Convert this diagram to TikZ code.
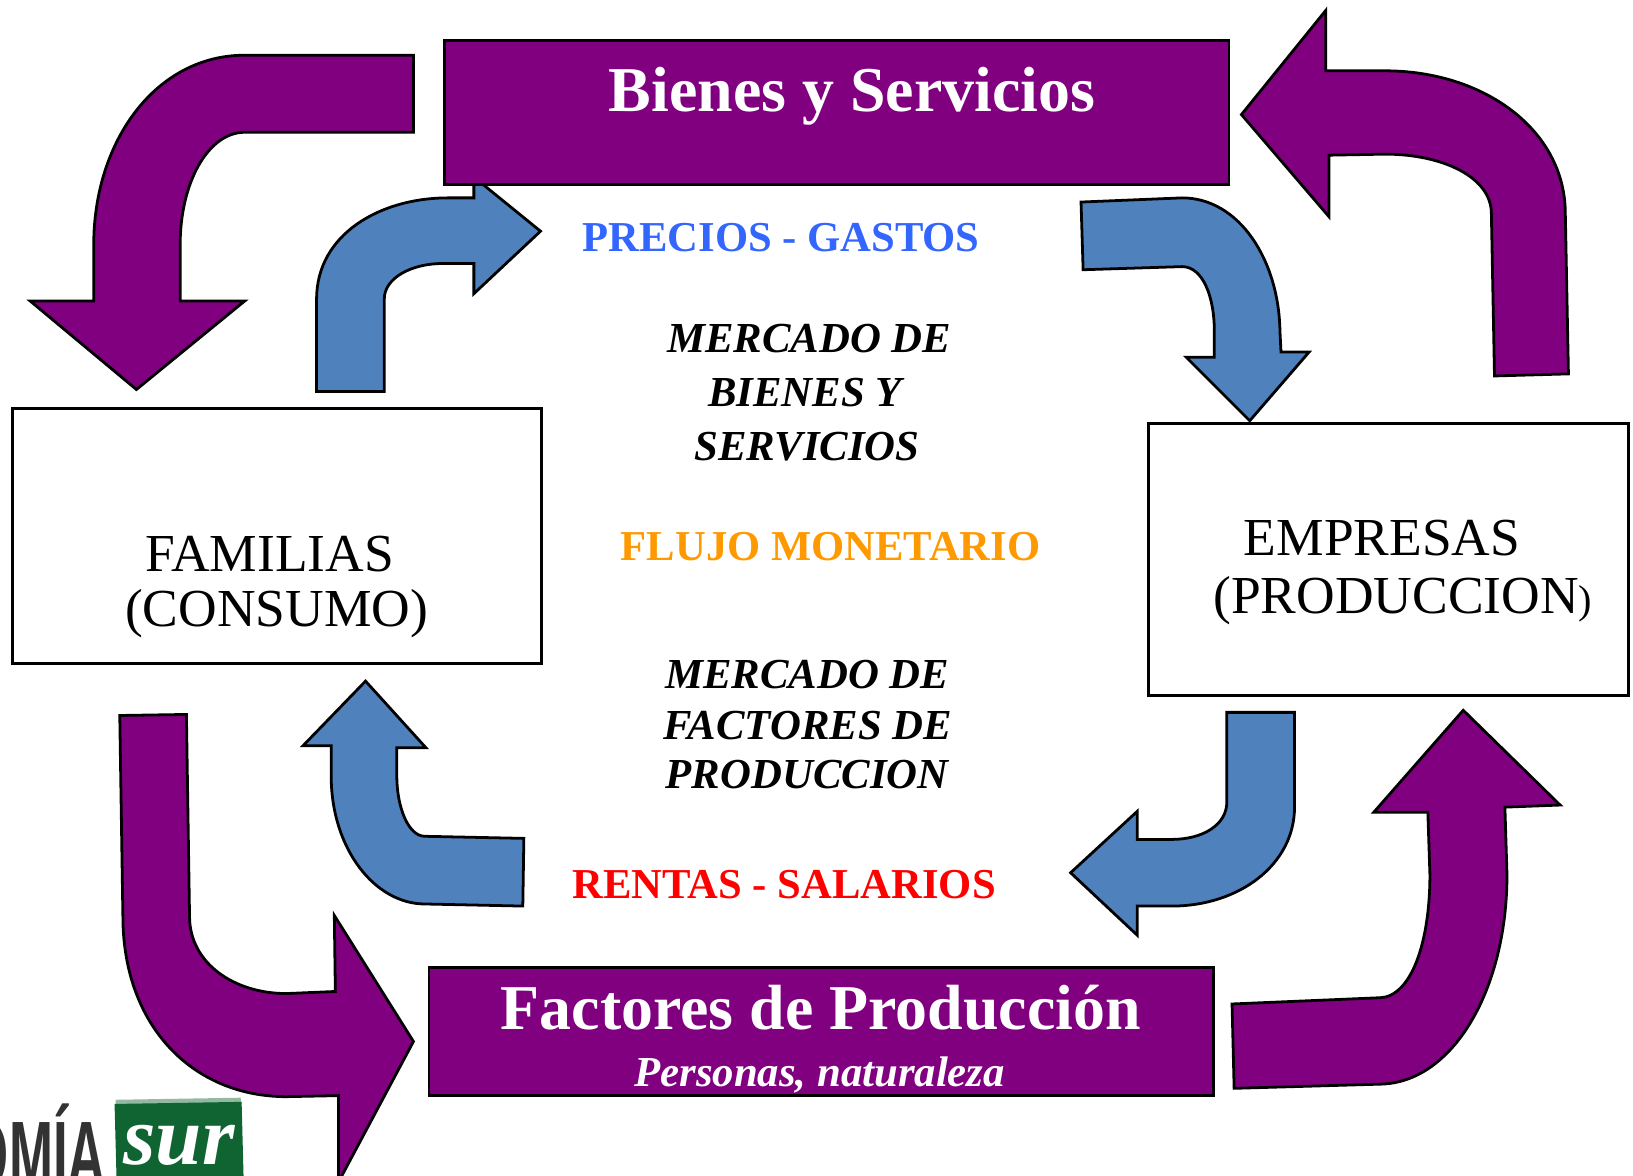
\documentclass[tikz,border=0pt]{standalone}
\usepackage{fontspec}
\setmainfont{Liberation Serif}
\newfontfamily\logofont[BoldFeatures={FakeStretch=0.56},FakeStretch=0.56]{Liberation Sans}
\definecolor{purp}{HTML}{800080}
\definecolor{steel}{HTML}{4F81BD}
\definecolor{precio}{HTML}{3366FF}
\definecolor{flujo}{HTML}{FF9900}
\definecolor{logogreen}{HTML}{0F6432}
\definecolor{logogrey}{HTML}{333333}
\newcommand{\fs}[1]{\fontsize{#1}{#1}\selectfont}
\tikzset{
  x=0.75pt,y=-0.75pt,
  purplearrow/.style={draw=black,line width=2pt,fill=purp,line join=miter},
  bluearrow/.style={draw=black,line width=2pt,fill=steel,line join=miter},
  purplebox/.style={draw=black,line width=2pt,fill=purp},
  whitebox/.style={draw=black,line width=2.2pt,fill=white},
  lbl/.style={inner sep=0pt,align=center},
}
\begin{document}
\begin{tikzpicture}
\useasboundingbox (0,0) rectangle (1568,1129);
\clip (0,0) rectangle (1568,1129);
% blue arrow top-left (behind box)
\draw[bluearrow] (304,376) -- (304,287) .. controls (304,225) and (365,190) .. (430,190) -- (455,190) -- (455,170) -- (519,222) -- (455,282) -- (455,253) -- (425,253) .. controls (395,253) and (369,267) .. (369,287) -- (369,376) -- cycle;
% boxes
\path[purplebox] (427,39) rectangle (1180,177);
\path[purplebox] (412,929) rectangle (1165,1052);
\path[whitebox] (12,392) rectangle (520,637);
\path[whitebox] (1103,407) rectangle (1564,668);
% purple arrows
\draw[purplearrow] (397,53) -- (235,53) .. controls (150,53) and (90,135) .. (90,235) -- (90,289) -- (29,289) -- (131,374) -- (235,289) -- (173,289) -- (173,235) .. controls (173,175) and (200,127) .. (235,127) -- (397,127) -- cycle;
\draw[purplearrow] (1435,361) -- (1432,205) .. controls (1432,170) and (1385,148) .. (1330,148) -- (1276,149) -- (1276,208) -- (1192,110) -- (1273,10) -- (1273,68) -- (1330,68) .. controls (1425,68) and (1503,125) .. (1503,205) -- (1506,359) -- cycle;
\draw[purplearrow] (1183,964) -- (1325,958) .. controls (1355,957) and (1373,905) .. (1373,840) -- (1371,780) -- (1319,780) -- (1405,682) -- (1498,773) -- (1445,775) -- (1447,840) .. controls (1447,950) and (1395,1040) .. (1325,1041) -- (1185,1045) -- cycle;
\draw[purplearrow] (115,687) -- (179,686) -- (182,880) .. controls (182,925) and (225,954) .. (275,954) -- (322,952) -- (321,879) -- (397,1000) -- (325,1135) -- (325,1052) -- (275,1053) .. controls (185,1053) and (118,985) .. (118,880) -- cycle;
% blue arrows
\draw[bluearrow] (1038,194) -- (1135,190) .. controls (1190,190) and (1228,250) .. (1229,318) -- (1230,338) -- (1257,338) -- (1200,404) -- (1139,343) -- (1166,343) -- (1166,318) .. controls (1166,285) and (1155,256) .. (1135,256) -- (1040,259) -- cycle;
\draw[bluearrow] (1178,684) -- (1178,770) .. controls (1178,792) and (1155,806) .. (1125,806) -- (1092,806) -- (1092,779) -- (1028,838) -- (1092,898) -- (1092,870) -- (1125,870) .. controls (1190,870) and (1243,830) .. (1243,775) -- (1243,684) -- cycle;
\draw[bluearrow] (503,805) -- (408,803) .. controls (392,803) and (381,775) .. (381,745) -- (381,718) -- (409,718) -- (351,654) -- (291,716) -- (318,716) -- (318,745) .. controls (318,815) and (360,868) .. (408,868) -- (502,870) -- cycle;
% texts
\node[lbl,text=white] (bienes) at (818,92) {\fs{46}\bfseries Bienes y Servicios};
\node[lbl,text=white] (factores) at (788,968) {\fs{46}\bfseries Factores de Producción};
\node[lbl,text=white] (personas) at (787,1032) {\fs{30.8}\bfseries\itshape Personas, naturaleza};
\node[lbl,text=precio] (precios) at (750,228) {\fs{30.7}\bfseries PRECIOS - GASTOS};
\node[lbl,text=black] (m1a) at (777,325) {\fs{30.8}\bfseries\itshape MERCADO DE};
\node[lbl,text=black] (m1b) at (773,377) {\fs{30.8}\bfseries\itshape BIENES Y};
\node[lbl,text=black] (m1c) at (775,429) {\fs{30.8}\bfseries\itshape SERVICIOS};
\node[lbl,text=flujo] (flujo) at (797.5,525) {\fs{30.7}\bfseries FLUJO MONETARIO};
\node[lbl,text=black] (m2a) at (775,648) {\fs{30.8}\bfseries\itshape MERCADO DE};
\node[lbl,text=black] (m2b) at (775.5,697) {\fs{30.8}\bfseries\itshape FACTORES DE};
\node[lbl,text=black] (m2c) at (775,744) {\fs{30.8}\bfseries\itshape PRODUCCION};
\node[lbl,text=red] (rentas) at (753,849) {\fs{30.7}\bfseries RENTAS - SALARIOS};
\node[lbl] (fam1) at (259,532) {\fs{38.5}FAMILIAS};
\node[lbl] (fam2) at (265.5,589) {\fs{38.5}(CONSUMO)};
\node[lbl] (emp1) at (1327,517) {\fs{38.5}EMPRESAS};
\node[lbl] (emp2) at (1347,577) {\fs{38.5}(PRODUCCION{\fs{29})}};
% logo
\fill[logogreen!45] (111,1056) -- (231,1054) -- (232,1060) -- (111,1062) -- cycle;
\fill[logogreen] (110,1060) -- (232,1058) -- (234,1135) -- (112,1135) -- cycle;
\node[lbl,text=white] (sur) at (172,1100) {\fs{60}\bfseries\itshape sur};
\node[lbl,text=logogrey,anchor=base east] (omia) at (102,1140) {\fs{68}\logofont\bfseries OMÍA};
\end{tikzpicture}
\end{document}
